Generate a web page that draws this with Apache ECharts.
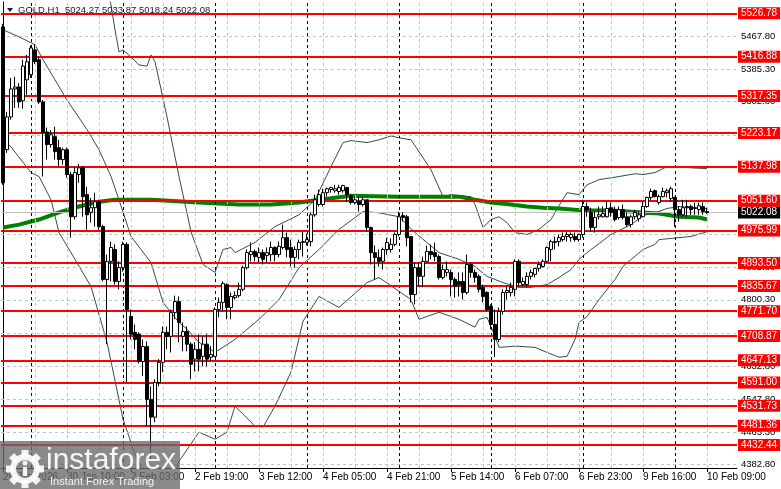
<!DOCTYPE html>
<html><head><meta charset="utf-8">
<script src="https://cdn.jsdelivr.net/npm/echarts@6.0.0/dist/echarts.min.js"></script>
<style>html,body{margin:0;padding:0;background:#fff}#c{width:781px;height:489px}</style>
</head><body><div id="c"></div>
<script>
const symbolName = 'GOLD,H1';
const lastQuote = [5024.27, 5033.87, 5018.24, 5022.08];
const opens = [
5492,5181,5264,5335,5340,5305,5358,5371,5434,5409,
5302,5226,5194,5214,5186,5156,5181,5118,5011,5118,
5135,5067,5022,5034,5049,4986,4852,4898,4928,4847,
4882,4941,4758,4718,4713,4644,4682,4548,4503,4591,
4642,4718,4708,4768,4796,4708,4720,4688,4650,4675,
4657,4688,4655,4657,4776,4794,4839,4781,4806,4811,
4827,4882,4915,4923,4908,4920,4913,4915,4933,4915,
4933,4958,4933,4908,4928,4946,4946,4948,5016,5042,
5042,5072,5080,5077,5075,5077,5085,5064,5047,5049,
5042,5054,4984,4920,4908,4898,4928,4928,4941,4966,
5014,5011,4961,4814,4882,4860,4898,4923,4920,4910,
4857,4870,4870,4852,4847,4847,4819,4890,4870,4860,
4832,4819,4784,4738,4700,4771,4819,4819,4827,4898,
4839,4839,4860,4865,4880,4885,4898,4928,4946,4948,
4953,4961,4958,4961,4953,4966,5037,5022,4984,5011,
5011,5011,5034,5029,5009,5029,5011,4991,5011,5006,
5011,5037,5060,5077,5047,5062,5072,5057,5060,5029,
5016,5034,5037,5032,5029,5037,5024.27];
const closes = [
5097,5264,5335,5340,5302,5393,5404,5439,5404,5302,
5224,5194,5219,5176,5156,5181,5118,5011,5123,5135,
5062,5016,5034,5049,4986,4852,4898,4933,4847,4882,
4941,4776,4713,4700,4644,4682,4548,4503,4591,4642,
4718,4708,4768,4796,4743,4720,4688,4637,4675,4650,
4688,4650,4662,4776,4794,4842,4781,4809,4811,4827,
4882,4920,4923,4910,4920,4903,4920,4933,4915,4936,
4958,4928,4908,4928,4946,4948,4953,5016,5054,5067,
5072,5082,5085,5082,5085,5090,5067,5047,5054,5042,
5054,4984,4920,4908,4898,4928,4946,4941,4966,5011,
5009,4958,4814,4882,4860,4898,4923,4915,4910,4857,
4877,4877,4852,4834,4839,4819,4890,4870,4857,4827,
4809,4776,4738,4700,4771,4819,4824,4832,4898,4844,
4847,4860,4870,4880,4890,4898,4933,4948,4948,4958,
4961,4966,4966,4953,4966,5037,5029,4984,5009,5016,
5019,5032,5022,5004,5029,5009,4991,5011,5022,5016,
5037,5060,5075,5062,5062,5075,5077,5082,5029,5016,
5034,5037,5029,5034,5039,5024,5022.08];
const highs = [
5500,5277,5363,5366,5350,5409,5421,5446,5449,5416,
5307,5237,5231,5239,5206,5186,5186,5125,5138,5145,
5140,5087,5059,5072,5054,4991,4915,4948,4941,4898,
4948,4946,4776,4738,4718,4700,4695,4581,4599,4650,
4733,4733,4776,4811,4809,4743,4733,4693,4693,4713,
4708,4713,4683,4781,4806,4847,4842,4819,4822,4844,
4887,4928,4946,4928,4933,4928,4933,4948,4936,4948,
4991,4971,4953,4936,4953,4973,4968,5022,5067,5080,
5082,5085,5087,5092,5092,5092,5087,5067,5062,5062,
5062,5054,4986,4938,4928,4933,4958,4956,4971,5024,
5022,5016,4961,4895,4895,4910,4938,4941,4946,4915,
4890,4898,4877,4857,4870,4870,4915,4895,4877,4865,
4839,4822,4789,4776,4781,4827,4834,4844,4903,4903,
4857,4870,4877,4882,4898,4903,4936,4953,4961,4966,
4971,4973,4971,4971,4968,5054,5047,5034,5024,5037,
5037,5049,5047,5037,5037,5042,5022,5016,5029,5024,
5049,5062,5082,5080,5067,5085,5082,5087,5062,5037,
5054,5054,5042,5047,5047,5047,5033.87];
const lows = [
5092,5173,5257,5287,5287,5285,5320,5363,5398,5297,
5113,5156,5186,5156,5138,5143,5110,4958,5004,5097,
5011,4978,4996,4986,4978,4847,4688,4847,4839,4827,
4872,4591,4700,4675,4639,4607,4480,4397,4490,4581,
4617,4675,4667,4751,4693,4670,4670,4599,4619,4619,
4632,4632,4645,4655,4756,4771,4751,4751,4801,4806,
4822,4877,4898,4898,4895,4890,4895,4898,4898,4908,
4928,4908,4885,4882,4903,4910,4938,4936,5011,5037,
5037,5062,5072,5072,5067,5072,5049,5042,5042,5024,
5037,4973,4890,4852,4885,4877,4915,4920,4936,4961,
4999,4936,4794,4789,4834,4832,4895,4903,4898,4852,
4852,4860,4809,4806,4809,4801,4814,4857,4844,4819,
4794,4771,4726,4655,4693,4763,4801,4809,4809,4834,
4834,4832,4852,4857,4872,4882,4895,4898,4928,4936,
4948,4948,4948,4948,4948,4958,5011,4973,4971,5004,
5009,5009,5011,4999,5004,5004,4986,4984,5004,4999,
5009,5034,5054,5060,5042,5060,5060,5049,4986,4999,
5011,5011,5016,5016,5016,5016,5018.24];

const emptySlots = 7;
const tickIdx = [0,16,32,48,64,80,96,112,128,144,160,176];
const tickLabels = ['29 Jan 2026','30 Jan 10:00','2 Feb 03:00','2 Feb 19:00','3 Feb 12:00','4 Feb 05:00','4 Feb 21:00','5 Feb 14:00','6 Feb 07:00','6 Feb 23:00','9 Feb 16:00','10 Feb 09:00'];
const daySepIdx = [7,30,53,76,99,122,145,168];
const gridColIdx = [8,16,24,32,40,48,56,64,72,80,88,96,104,112,120,128,136,144,152,160,168,176];
const gridRowVals = [5467.80,5385.30,5302.80,5217.80,5135.30,5050.30,4967.80,4882.80,4800.30,4715.30,4632.80,4547.80,4465.30,4382.80];
const levelVals = [5526.78,5416.88,5317.35,5223.17,5137.98,5051.60,4975.99,4893.50,4835.67,4771.70,4708.87,4647.13,4591.00,4531.73,4481.36,4432.44];

const maIdx = [0,4,9,14,19,24,28,37,49,59,67,74,79,87,99,109,114,118,122,127,131,135,139,143,147,152,157,164,169,174,176];
const maVal = [4984,4991,5004,5022,5037,5049,5054,5054,5047,5042,5042,5047,5054,5064,5062,5062,5062,5054,5047,5042,5037,5034,5032,5029,5027,5027,5024,5019,5011,5009,5004];

const bbUpIdx = [26,27,28,29,30,32,34,36,37,38,41,44,47,50,53,55,57,58,63,68,74,78,82,85,87,91,94,97,99,102,103,107,110,112,117,118,120,122,124,126,128,131,134,137,139,141,144,146,149,154,158,160,163,166,169,172,176];
const bbUpVal = [5586,5548,5485,5429,5434,5416,5396,5393,5421,5404,5264,5113,4973,4890,4870,4928,4933,4920,4946,4986,5016,5054,5138,5199,5204,5199,5206,5216,5211,5206,5191,5130,5062,5067,5062,5042,4984,5004,5011,4996,4971,4966,4979,5004,5039,5072,5067,5092,5105,5113,5120,5118,5123,5138,5138,5135,5133];
const bbMidIdx = [0,4,8,10,13,16,21,24,27,29,32,37,40,44,46,49,53,58,64,69,74,79,84,90,94,99,103,109,114,118,121,125,129,132,136,139,142,144,146,149,152,157,160,163,166,169,172,176];
const bbMidVal = [5485,5467,5447,5409,5358,5307,5232,5181,5113,5054,4961,4895,4794,4743,4726,4693,4667,4700,4751,4801,4882,4928,4979,5024,5021,5011,4971,4920,4903,4885,4860,4844,4832,4832,4839,4857,4877,4903,4920,4943,4966,4991,5014,5021,5032,5037,5034,5032];
const bbLowIdx = [0,2,7,9,12,14,18,22,26,30,33,36,39,42,44,49,53,56,58,63,65,68,72,75,79,84,91,94,102,104,109,114,118,119,121,123,124,128,133,136,139,141,143,144,146,149,153,155,160,163,164,169,172,176];
const bbLowVal = [5206,5188,5123,5113,5054,4971,4903,4834,4693,4498,4409,4346,4295,4333,4391,4465,4447,4465,4531,4480,4478,4531,4617,4746,4809,4781,4844,4857,4801,4751,4769,4751,4731,4751,4756,4708,4680,4683,4680,4667,4655,4657,4700,4743,4758,4801,4852,4885,4928,4941,4953,4958,4961,4973];

const FONT = 'Liberation Sans, Arial, sans-serif';
const total = opens.length + emptySlots;
const categories = Array.from({length: total}, (_, i) => String(i));
const labelMap = new Map(tickIdx.map((k, j) => [k, tickLabels[j]]));
const candles = opens.map((o, i) => [o, closes[i], lows[i], highs[i]]);
const pairs = (a, b) => a.map((x, i) => [x, b[i]]);

const gridLines = [];
gridColIdx.forEach(k => gridLines.push({xAxis: k, lineStyle: {color: '#c4c4c4', type: [3, 3], width: 1}, label: {show: false}}));
daySepIdx.forEach(k => gridLines.push({xAxis: k, lineStyle: {color: '#000', type: [3, 3], width: 1}, label: {show: false}}));
gridRowVals.forEach(v => gridLines.push({yAxis: v, lineStyle: {color: '#c4c4c4', type: [3, 3], width: 1},
  label: {show: true, position: 'end', distance: 4, formatter: v.toFixed(2), color: '#000', fontSize: 9.5, fontFamily: FONT}}));
gridLines.push({yAxis: lastQuote[3], lineStyle: {color: '#c0c0c0', type: 'solid', width: 1},
  label: {show: true, position: 'end', distance: 1, formatter: lastQuote[3].toFixed(2), color: '#fff', backgroundColor: '#000',
    padding: [1, 3, 0, 3], lineHeight: 11, fontSize: 10, fontFamily: FONT}});

const redLines = levelVals.map(v => ({yAxis: v, lineStyle: {color: '#ff0000', type: 'solid', width: 2},
  label: {show: true, position: 'end', distance: 1, formatter: v.toFixed(2), color: '#fff', backgroundColor: '#ff0000',
    padding: [1, 3, 0, 3], lineHeight: 11, fontSize: 10, fontFamily: FONT}}));

const bandStyle = {color: '#2f4f4f', width: 1};

const teeth = [];
for (let k = 0; k < 8; k++) {
  teeth.push({type: 'rect', x: 25, y: 469, rotation: k * Math.PI / 4,
    shape: {x: -3.5, y: -19, width: 7, height: 8}, style: {fill: 'rgba(255,255,255,0.9)'}, z: 100});
}

const option = {
  animation: false,
  backgroundColor: '#ffffff',
  grid: {left: 1, right: 44, top: 2, bottom: 21, containLabel: false},
  xAxis: [
    {type: 'category', data: categories, boundaryGap: true,
     axisLine: {show: true, lineStyle: {color: '#000', width: 1}},
     axisTick: {show: true, alignWithLabel: true, interval: (i) => labelMap.has(i), length: 4, lineStyle: {color: '#000'}},
     axisLabel: {show: true, interval: (i) => labelMap.has(i), formatter: (v, i) => labelMap.get(i) || '',
       align: 'left', color: '#000', fontSize: 10, fontFamily: FONT, margin: 4},
     splitLine: {show: false}},
    {type: 'value', min: -0.5, max: total - 0.5, show: false}
  ],
  yAxis: {type: 'value', position: 'right', min: 4374.1, max: 5555.4,
    axisLine: {show: true, lineStyle: {color: '#000', width: 1}},
    axisTick: {show: false}, axisLabel: {show: false}, splitLine: {show: false}},
  series: [
    {type: 'line', xAxisIndex: 1, data: [], z: 1, silent: true,
     markLine: {silent: true, symbol: ['none', 'none'], animation: false, data: gridLines}},
    {type: 'line', xAxisIndex: 1, data: [], z: 2, silent: true,
     markLine: {silent: true, symbol: ['none', 'none'], animation: false, data: redLines}},
    {type: 'line', xAxisIndex: 1, data: pairs(bbUpIdx, bbUpVal), showSymbol: false, lineStyle: bandStyle, z: 3},
    {type: 'line', xAxisIndex: 1, data: pairs(bbMidIdx, bbMidVal), showSymbol: false, lineStyle: bandStyle, z: 3},
    {type: 'line', xAxisIndex: 1, data: pairs(bbLowIdx, bbLowVal), showSymbol: false, lineStyle: bandStyle, z: 3},
    {type: 'line', xAxisIndex: 1, data: pairs(maIdx, maVal), showSymbol: false, lineStyle: {color: '#008000', width: 4}, z: 4},
    {type: 'candlestick', xAxisIndex: 0, data: candles, barWidth: 3, z: 5,
     itemStyle: {color: '#ffffff', color0: '#000000', borderColor: '#000000', borderColor0: '#000000', borderWidth: 1}}
  ],
  graphic: [
    {type: 'polygon', shape: {points: [[7, 8], [13, 8], [10, 12]]}, style: {fill: '#14143c'}, z: 100},
    {type: 'text', style: {x: 18, y: 5, text: symbolName + '  ' + lastQuote.map(v => v.toFixed(2)).join(' '),
      font: '9.5px ' + FONT, fill: '#14143c', verticalAlign: 'top'}, z: 100},
    {type: 'rect', shape: {x: 0, y: 441, width: 180, height: 48}, style: {fill: 'rgba(105,105,105,0.78)'}, z: 99},
    {type: 'circle', shape: {cx: 25, cy: 469, r: 12}, style: {fill: 'none', stroke: 'rgba(255,255,255,0.9)', lineWidth: 6}, z: 100},
    ...teeth,
    {type: 'circle', shape: {cx: 25, cy: 463, r: 2.5}, style: {fill: 'rgba(255,255,255,0.9)'}, z: 100},
    {type: 'rect', shape: {x: 23, y: 467, width: 4, height: 9}, style: {fill: 'rgba(255,255,255,0.9)'}, z: 100},
    {type: 'text', style: {x: 46, y: 446, text: 'instaforex', font: '30px ' + FONT, fill: 'rgba(255,255,255,0.92)', verticalAlign: 'top'}, z: 100},
    {type: 'text', style: {x: 50, y: 476, text: 'Instant Forex Trading', font: '11px ' + FONT, fill: 'rgba(255,255,255,0.9)', verticalAlign: 'top'}, z: 100}
  ]
};
const chart = echarts.init(document.getElementById('c'), null, {renderer: 'canvas'});
chart.setOption(option);
</script>
</body></html>
